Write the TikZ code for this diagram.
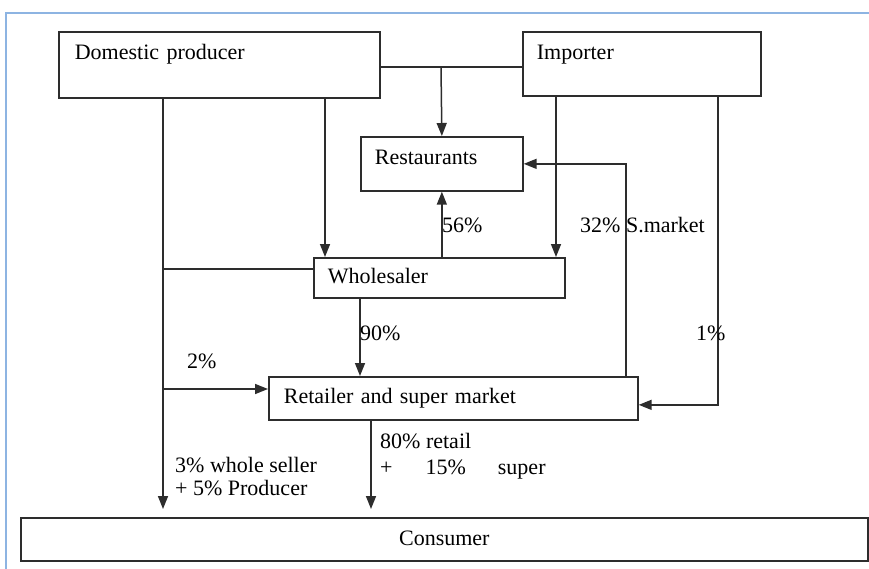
\documentclass[tikz,border=0pt]{standalone}
\usepackage{fontspec}
\setmainfont{Liberation Serif}
\usepackage{tikz}
\usetikzlibrary{arrows.meta,positioning,calc}
\definecolor{frameBlue}{RGB}{141, 180, 226}
\definecolor{lineGray}{RGB}{45, 45, 45}

\begin{document}
\begin{tikzpicture}[x=1pt,y=-1pt,
    stagebox/.style={draw=lineGray, line width=1.7pt, inner ysep=0pt, inner xsep=14pt, align=left, anchor=north west, font=\fontsize{22}{26}\selectfont},
    flow/.style={-{Triangle[length=13pt,width=10pt]}, line width=1.5pt, draw=lineGray},
    link/.style={line width=1.5pt, draw=lineGray},
    share/.style={anchor=base west, inner sep=0pt, font=\fontsize{22}{26}\selectfont}]
        \useasboundingbox (0,0) rectangle (869,569);
        \fill[white] (0,0) rectangle (869,569);
        \draw[frameBlue, line width=2.5pt] (869,13) -- (6,13) -- (6,569);

        % Sources
        \node[stagebox, inner xsep=16pt, text width=289pt, text height=28pt, text depth=38pt] (dom) at (58,31) {Domestic producer};
        \node[stagebox, text width=210pt, text height=28pt, text depth=36pt] (imp) at (522,31) {Importer};

        % Intermediate stages
        \node[stagebox, text width=134pt, text height=28pt, text depth=26pt] (rest) at (360,136) {Restaurants};
        \node[stagebox, text width=223pt, text height=26pt, text depth=14pt] (whole) at (313,257) {Wholesaler};
        \node[stagebox, inner xsep=15pt, text width=339pt, text height=27pt, text depth=16pt] (ret) at (268,376) {Retailer and super market};
        \node[stagebox, align=center, inner xsep=0pt, text width=847pt, text height=28pt, text depth=15pt] (con) at (20,517) {Consumer};

        % Junction points
        \coordinate (join) at (441,67);
        \coordinate (colA) at (163,0);
        \coordinate (colB) at (325,0);
        \coordinate (colC) at (556,0);
        \coordinate (colD) at (718,0);
        \coordinate (colE) at (626,0);
        \coordinate (colF) at (360,0);
        \coordinate (colG) at (371,0);
        \coordinate (tapW) at (163,269);
        \coordinate (tapR) at (163,389);

        % Producer and importer to restaurants
        \draw[link] (dom.east |- join) -- (imp.west |- join);
        \draw[flow] (join) -- (rest.north);

        % Producer flows
        \draw[flow, shorten >=8pt] (dom.south -| colA) -- (con.north -| colA);
        \draw[link] (tapW) -- (whole.west |- tapW);
        \draw[flow] (tapR) -- (ret.west |- tapR);
        \draw[flow] (dom.south -| colB) -- (whole.north -| colB);

        % Importer flows
        \draw[flow] (imp.south -| colC) -- (whole.north -| colC);
        \draw[flow] (imp.south -| colD) |- ([yshift=-6.5pt]ret.east);

        % Wholesaler and retailer flows
        \draw[flow] (rest.south |- whole.north) -- (rest.south);
        \draw[flow] (ret.north -| colE) |- (rest.east);
        \draw[flow] (whole.south -| colF) -- (ret.north -| colF);
        \draw[flow, shorten >=8pt] (ret.south -| colG) -- (con.north -| colG);

        % Shares
        \node[share] (s56) at (442,233) {56\%};
        \node[share] (s32) at (580,233) {32\% S.market};
        \node[share] (s90) at (360,340) {90\%};
        \node[share] (s1) at (696,340) {1\%};
        \node[share] (s2) at (187,368) {2\%};
        \node[share] (s80) at (380,448) {80\% retail};
        \node[share] (s15) at (380,474) {+\hspace{33pt}15\%\hspace{32pt}super};
        \node[share] (s3) at (175,472) {3\% whole seller};
        \node[share] (s5) at (175,495) {+ 5\% Producer};

    \end{tikzpicture}
\end{document}
